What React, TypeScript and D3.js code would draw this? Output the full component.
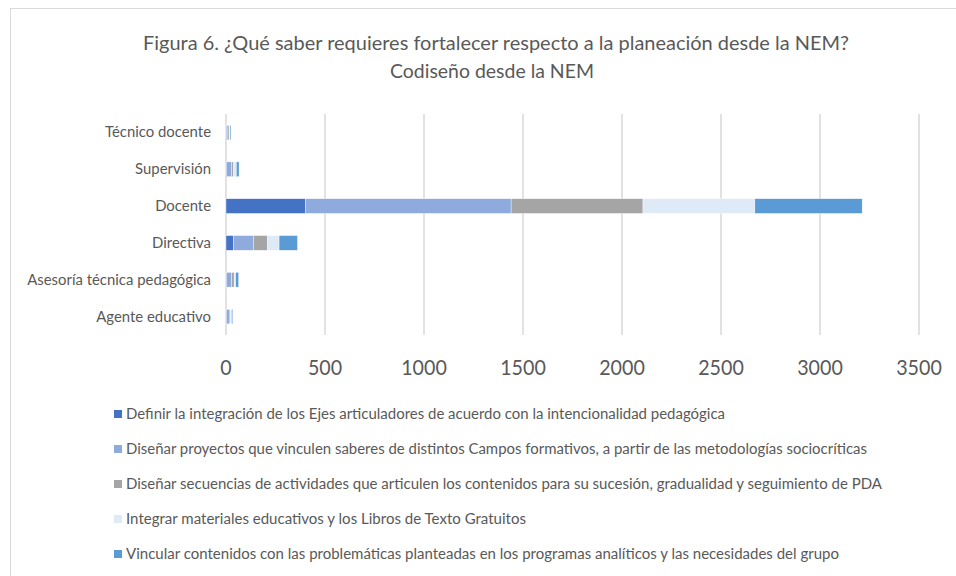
import React from "react";
import * as d3 from "d3";

const categories = [
  "Técnico docente",
  "Supervisión",
  "Docente",
  "Directiva",
  "Asesoría técnica pedagógica",
  "Agente educativo",
];

const seriesNames = [
  "Definir la integración de los Ejes articuladores de acuerdo con la intencionalidad pedagógica",
  "Diseñar proyectos que vinculen saberes de distintos Campos formativos, a partir de las metodologías sociocríticas",
  "Diseñar secuencias de actividades que articulen los contenidos para su sucesión, gradualidad y seguimiento de PDA",
  "Integrar materiales educativos y los Libros de Texto Gratuitos",
  "Vincular contenidos con las problemáticas planteadas en los programas analíticos y las necesidades del grupo",
];

const seriesColors = ["#4472C4", "#8FAADC", "#A5A5A5", "#DEEBF7", "#5B9BD5"];

// values per category, in the order of categories
const definir = [2, 3, 400, 37, 3, 2];
const proyectos = [8, 25, 1040, 101, 26, 14];
const secuencias = [6, 10, 666, 72, 12, 6];
const integrar = [4, 14, 565, 58, 8, 6];
const vincular = [5, 14, 542, 93, 15, 6];

const seriesValues = [definir, proyectos, secuencias, integrar, vincular];

const xTicks = [0, 500, 1000, 1500, 2000, 2500, 3000, 3500];

const legendWidths = [599, 741, 756, 400, 713];

const FONT = "Lato, 'Open Sans', sans-serif";
const TEXT = "#595959";

export default function App() {
  const W = 956;
  const H = 576;
  const x = d3.scaleLinear().domain([0, 3500]).range([226, 919]);
  const y = d3
    .scaleBand<string>()
    .domain(categories)
    .range([114, 335])
    .paddingInner(0.6)
    .paddingOuter(0.3);

  const rows = categories.map((c, i) => {
    const vals = seriesValues.map((s) => s[i]);
    let acc = 0;
    return vals.map((v, k) => {
      const x0 = acc;
      acc += v;
      return { cat: c, k, x0, x1: acc };
    });
  });

  const legendY = d3.scalePoint<number>().domain([0, 1, 2, 3, 4]).range([414, 554]);

  return (
    <svg
      width={W}
      height={H}
      style={{ position: "absolute", left: 0, top: 0, background: "#fff" }}
      fontFamily={FONT}
    >
      <rect x={0} y={0} width={W} height={H} fill="#fff" />
      <rect x={10.5} y={8.5} width={980} height={600} fill="#fff" stroke="#d9d9d9" strokeWidth={1} />
      <text x={496} y={50} textAnchor="middle" fontSize={18.7} fill={TEXT} textLength={706} lengthAdjust="spacingAndGlyphs">
        Figura 6. ¿Qué saber requieres fortalecer respecto a la planeación desde la NEM?
      </text>
      <text x={492} y={78} textAnchor="middle" fontSize={18.7} fill={TEXT} textLength={204} lengthAdjust="spacingAndGlyphs">
        Codiseño desde la NEM
      </text>
      {xTicks.map((t) => (
        <line key={t} x1={x(t)} x2={x(t)} y1={114} y2={335} stroke="#d9d9d9" strokeWidth={1.5} />
      ))}
      {rows.map((segs) =>
        segs.map((s) => (
          <rect
            key={s.cat + s.k}
            x={x(s.x0)}
            y={y(s.cat)}
            width={Math.max(0, x(s.x1) - x(s.x0))}
            height={y.bandwidth()}
            fill={seriesColors[s.k]}
            stroke="#ffffff"
            strokeWidth={0.4}
          />
        ))
      )}
      {categories.map((c) => (
        <text key={c} x={211} y={(y(c) as number) + y.bandwidth() / 2 + 5} textAnchor="end" fontSize={14.9} fill={TEXT}>
          {c}
        </text>
      ))}
      {xTicks.map((t) => (
        <text
          key={t}
          x={x(t)}
          y={375}
          textAnchor="middle"
          fontSize={21.5}
          fill={TEXT}
          textLength={String(t).length * 11.4}
          lengthAdjust="spacingAndGlyphs"
        >
          {t}
        </text>
      ))}
      {seriesNames.map((n, i) => (
        <g key={n}>
          <rect x={114} y={legendY(i)! - 4} width={8} height={8} fill={seriesColors[i]} />
          <text x={126} y={legendY(i)! + 5} fontSize={14.6} fill={TEXT} textLength={legendWidths[i]} lengthAdjust="spacingAndGlyphs">
            {n}
          </text>
        </g>
      ))}
    </svg>
  );
}
